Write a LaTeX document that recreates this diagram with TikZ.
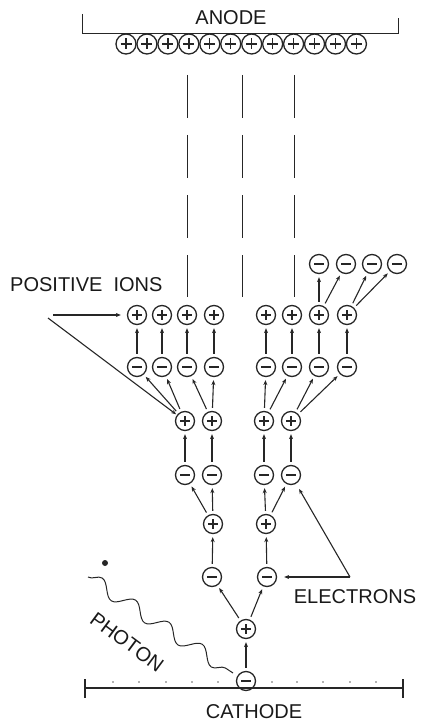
\documentclass[tikz,border=0pt]{standalone}
\usepackage{fontspec}
\setmainfont{Liberation Sans}
\usetikzlibrary{arrows.meta,decorations.pathmorphing}
\begin{document}
\begin{tikzpicture}[x=1pt,y=-1pt,
 ink/.style={black!85},
 ionbase/.style={ink,circle,draw,line width=1.3pt,minimum size=19pt,inner sep=0pt},
 minusion/.style={ionbase,path picture={\draw[ink,line width=1.3pt] ([xshift=4.5pt]path picture bounding box.west) -- ([xshift=-4.5pt]path picture bounding box.east);}},
 plusion/.style={ionbase,path picture={\draw[ink,line width=1.3pt] ([xshift=4.5pt]path picture bounding box.west) -- ([xshift=-4.5pt]path picture bounding box.east) ([yshift=-4.5pt]path picture bounding box.north) -- ([yshift=4.5pt]path picture bounding box.south);}},
 arr/.style={ink,-{Stealth[length=5pt,width=4pt]},line width=1.1pt,shorten >=3pt,shorten <=3pt},
 lbl/.style={font=\fontsize{20}{24}\selectfont,inner sep=0pt,text=black!90}
]
\useasboundingbox (0,0) rectangle (420,722);
% anode
\draw[ink,line width=0.8pt] (82,14) -- (82,33) -- (398,33) -- (398,18);
\node[lbl] (anode) at (231,18) {ANODE};
\foreach \i in {0,...,11} \node[plusion,minimum size=20pt] (an\i) at ({126+20.95*\i},44) {};
% dashed paths
\foreach \x in {187,242,294} \draw[ink,line width=0.9pt,dash pattern=on 43pt off 17pt] (\x,75) -- (\x,297);
% rows of ions and electrons
\foreach \x [count=\i] in {137,162,187,214,266,292,319,347} {
  \node[plusion] (a\i) at (\x,315) {};
  \node[minusion] (b\i) at (\x,367) {};
}
\foreach \x [count=\i] in {319,346,372,397} \node[minusion] (t\i) at (\x,264) {};
\foreach \x [count=\i] in {185,212,264,291} {
  \node[plusion] (c\i) at (\x,421) {};
  \node[minusion] (d\i) at (\x,475) {};
}
\node[plusion] (e1) at (213,524) {};
\node[plusion] (e2) at (266,524) {};
\node[minusion] (f1) at (212,577) {};
\node[minusion] (f2) at (267,577) {};
\node[plusion] (g) at (246,629) {};
\node[minusion] (h) at (246,681) {};
% arrows
\foreach \i in {1,...,8} \draw[arr] (b\i) -- (a\i);
\draw[arr] (c1) -- (b1);
\draw[arr] (c1) -- (b2);
\draw[arr] (c2) -- (b3);
\draw[arr] (c2) -- (b4);
\draw[arr] (c3) -- (b5);
\draw[arr] (c3) -- (b6);
\draw[arr] (c4) -- (b7);
\draw[arr] (c4) -- (b8);
\foreach \i in {1,...,4} \draw[arr] (d\i) -- (c\i);
\draw[arr] (e1) -- (d1);
\draw[arr] (e1) -- (d2);
\draw[arr] (e2) -- (d3);
\draw[arr] (e2) -- (d4);
\draw[arr] (f1) -- (e1);
\draw[arr] (f2) -- (e2);
\draw[arr] (g) -- (f1);
\draw[arr] (g) -- (f2);
\draw[arr] (h) -- (g);
\draw[arr] (a7) -- (t1);
\draw[arr] (a7) -- (t2);
\draw[arr] (a8) -- (t3);
\draw[arr] (a8) -- (t4);
% labels with pointers
\node[lbl,anchor=west] (posl) at (10,285) {POSITIVE\ \ IONS};
\coordinate (p1) at (53,315);
\coordinate (p2) at (48,318);
\draw[arr,shorten <=0pt,shorten >=6pt] (p1) -- (a1);
\draw[arr,shorten <=0pt,shorten >=1pt] (p2) -- (c1);
\node[lbl] (el) at (355,597) {ELECTRONS};
\coordinate (ep) at (350,577);
\draw[arr,shorten <=0pt,shorten >=7pt] (ep) -- (f2);
\draw[arr,shorten <=0pt,shorten >=6pt] (ep) -- (d4);
% photon
\node[ink,circle,fill,inner sep=0pt,minimum size=6pt] (dot) at (105,563) {};
\coordinate (ps) at (88,577);
\coordinate (pe) at (233,673);
\draw[ink,line width=1pt,decorate,decoration={snake,segment length=40pt,amplitude=7pt}] (ps) -- (pe);
\node[lbl,rotate=-36.5] (photon) at (127,642) {PHOTON};
% cathode
\draw[ink,line width=1.1pt] (85,688) -- (403,688);
\draw[ink,line width=1.1pt] (85,679) -- (85,698) (403,679) -- (403,698);
\foreach \x in {113,139,166,192,218,272,297,323,350,376} \fill[black!60] (\x,682) circle (0.8pt);
\node[lbl] (cathode) at (254,712) {CATHODE};
\end{tikzpicture}
\end{document}
